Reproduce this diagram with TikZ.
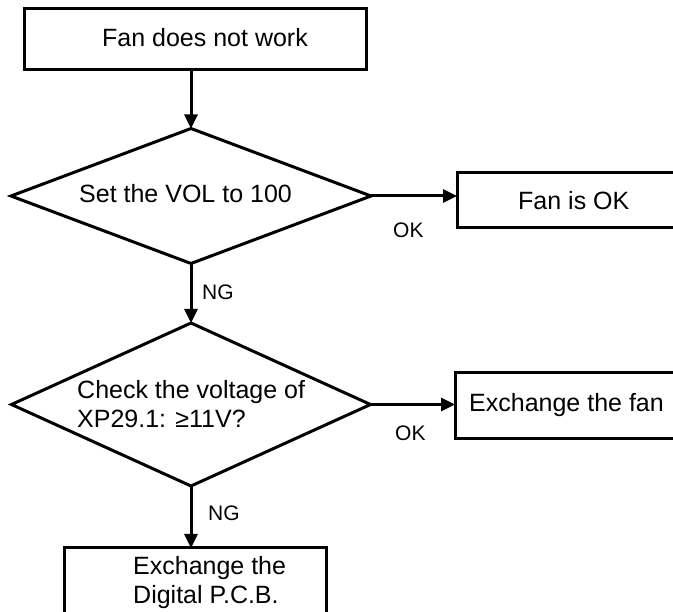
\documentclass[tikz,border=0pt]{standalone}
\usepackage{fontspec}
\setmainfont{Liberation Sans}
\usetikzlibrary{arrows.meta,shapes.geometric}
\begin{document}
\begin{tikzpicture}[x=1pt,y=-1pt,
  box/.style={draw,line width=3pt,rectangle,inner sep=0,outer sep=0},
  dia/.style={draw,line width=3pt,diamond,inner sep=0,outer sep=0},
  main/.style={inner sep=0,font=\fontsize{25}{29}\selectfont,anchor=base west},
  lab/.style={inner sep=0,font=\fontsize{21}{25}\selectfont,anchor=base west},
  arr/.style={line width=3pt,-{Triangle[length=14pt,width=13pt]}}]
\useasboundingbox (0,0) rectangle (673,612);
\clip (0,0) rectangle (673,612);
% shapes
\node[box,minimum width=342pt,minimum height=61pt] (b0) at (195,39.5) {};
\node[dia,minimum width=360pt,minimum height=135pt] (d1) at (191,196) {};
\node[box,minimum width=233pt,minimum height=55pt] (b1) at (573.5,200.5) {};
\node[dia,minimum width=359pt,minimum height=163pt] (d2) at (191,404.5) {};
\node[box,minimum width=235pt,minimum height=66pt] (b2) at (572.5,406) {};
\node[box,minimum width=262pt,minimum height=82pt] (b3) at (195,589) {};
% texts
\node[main] (t0) at (102,47) {Fan does not work};
\node[main] (t1) at (79,203) {Set the VOL to 100};
\node[main] (t2) at (518,210) {Fan is OK};
\node[main,align=left] (t3) at (77,428) {Check the voltage of\\XP29.1: ≥11V?};
\node[main] (t4) at (469,412) {Exchange the fan};
\node[main,align=left] (t5) at (133,604) {Exchange the\\Digital P.C.B.};
% labels
\node[lab] (ok1) at (393,238) {OK};
\node[lab] (ng1) at (202,300) {NG};
\node[lab] (ok2) at (395,441) {OK};
\node[lab] (ng2) at (208,521) {NG};
% connectors
\draw[arr] (b0.south -| d1.north) -- (d1.north);
\draw[arr] (d1.east) -- (d1.east -| b1.west);
\draw[arr] (d1.south) -- (d2.north);
\draw[arr] (d2.east) -- (d2.east -| b2.west);
\draw[arr] (d2.south) -- (d2.south |- b3.north);
\end{tikzpicture}
\end{document}
